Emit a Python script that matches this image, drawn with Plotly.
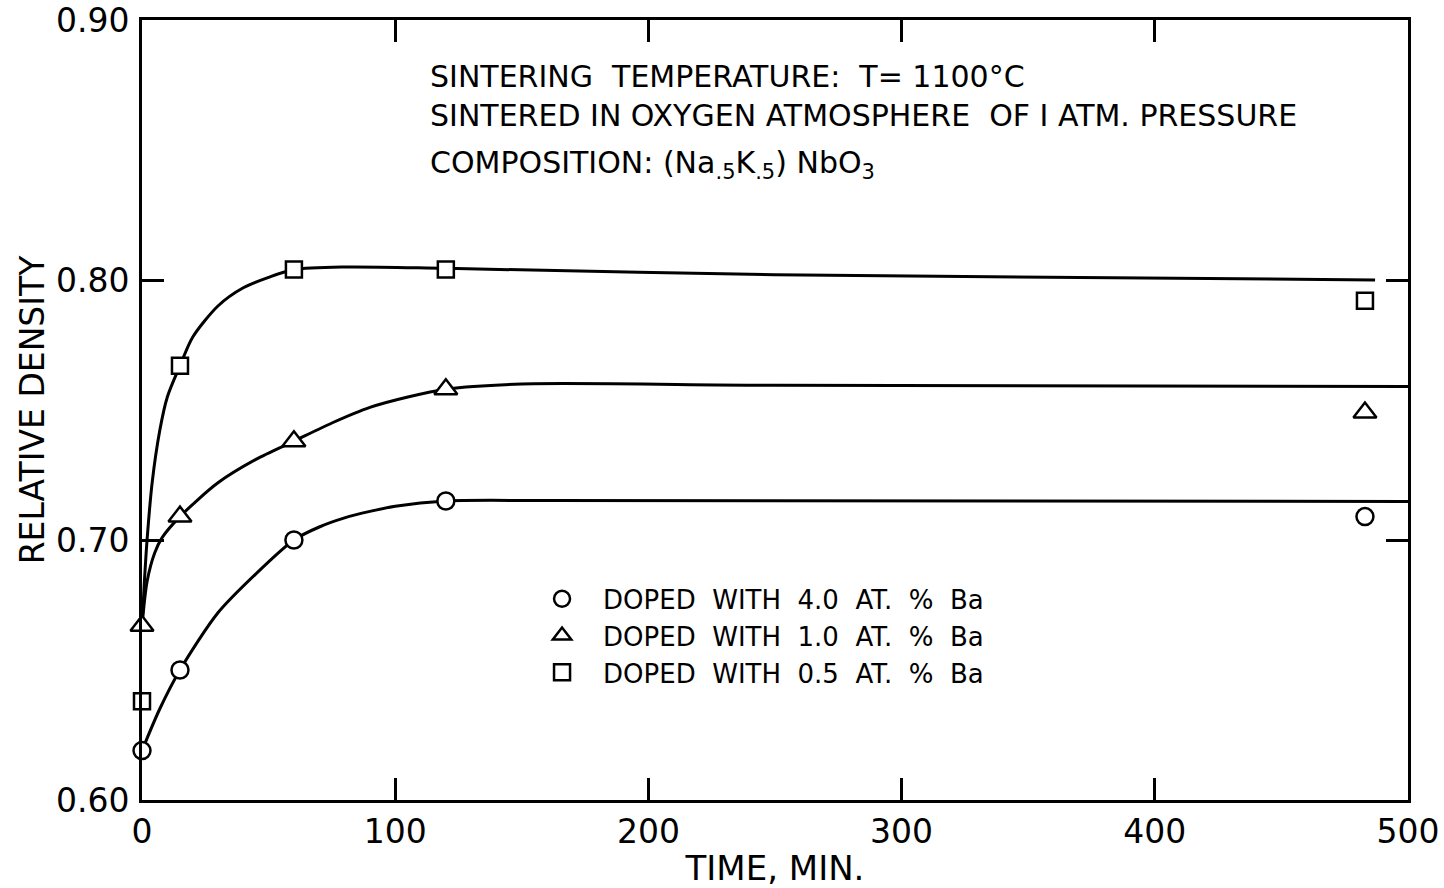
import plotly.graph_objects as go

# ---- data ----
time_pts = [0, 15, 60, 120, 483]
ba40 = [0.619, 0.650, 0.700, 0.715, 0.709]
ba10 = [0.667, 0.709, 0.738, 0.758, 0.749]
ba05 = [0.638, 0.767, 0.804, 0.804, 0.792]

# hand-drawn fitted curves
fit40_t = [0, 7, 15, 30, 45, 60, 70, 80, 90, 100, 120, 160, 500]
fit40_y = [0.619, 0.635, 0.650, 0.672, 0.687, 0.700, 0.705, 0.7085, 0.711, 0.713, 0.715, 0.7152, 0.7148]
fit10_t = [0, 2, 5, 8, 15, 30, 45, 60, 75, 90, 105, 120, 150, 250, 500]
fit10_y = [0.667, 0.684, 0.695, 0.701, 0.709, 0.722, 0.731, 0.738, 0.745, 0.751, 0.755, 0.758, 0.760, 0.7595, 0.759]
fit05_t = [0, 1, 2, 4, 7, 10, 15, 20, 30, 40, 50, 60, 80, 120, 250, 487]
fit05_y = [0.667, 0.685, 0.700, 0.722, 0.742, 0.755, 0.767, 0.778, 0.790, 0.797, 0.801, 0.804, 0.805, 0.8045, 0.802, 0.800]

labels = ["DOPED  WITH  4.0  AT.  %  Ba", "DOPED  WITH  1.0  AT.  %  Ba", "DOPED  WITH  0.5  AT.  %  Ba"]
x_ticks = [0, 100, 200, 300, 400, 500]
y_ticks = [0.60, 0.70, 0.80, 0.90]
y_ticklabels = ["0.60", "0.70", "0.80", "0.90"]

FONT = "DejaVu Sans"
fig = go.Figure()

for t, y in [(fit40_t, fit40_y), (fit10_t, fit10_y), (fit05_t, fit05_y)]:
    fig.add_trace(go.Scatter(x=t, y=y, mode="lines", showlegend=False,
                             line=dict(color="black", width=3, shape="spline", smoothing=0.8),
                             cliponaxis=False, hoverinfo="skip"))

for y, sym, lab, sz in [(ba40, "circle", labels[0], 17), (ba10, "triangle-up", labels[1], 20),
                        (ba05, "square", labels[2], 16)]:
    fig.add_trace(go.Scatter(x=time_pts, y=y, mode="markers", name=lab,
                             marker=dict(symbol=sym, size=sz, color="white",
                                         line=dict(color="black", width=2.5)),
                             cliponaxis=False))

axis_common = dict(showline=True, linecolor="black", linewidth=3, mirror="ticks",
                   ticks="inside", ticklen=22, tickwidth=2.5, tickcolor="black",
                   showgrid=False, zeroline=False, automargin=False,
                   tickfont=dict(family=FONT, size=33, color="black"))

fig.update_xaxes(range=[0, 500], tickvals=x_ticks, ticklabelstandoff=0,
                 title=dict(text="TIME, MIN.", font=dict(family=FONT, size=34, color="black"), standoff=10),
                 **axis_common)
fig.update_yaxes(range=[0.60, 0.90], tickvals=y_ticks, ticktext=y_ticklabels, ticklabelstandoff=3,
                 title=dict(text="RELATIVE DENSITY", font=dict(family=FONT, size=33, color="black"), standoff=2),
                 **axis_common)

ann_font = dict(family=FONT, size=30, color="black")
fig.add_annotation(x=0.2259, y=0.927, xref="paper", yref="paper", xanchor="left", yanchor="middle",
                   text="SINTERING  TEMPERATURE:  T= 1100°C", showarrow=False, font=ann_font)
fig.add_annotation(x=0.2259, y=0.878, xref="paper", yref="paper", xanchor="left", yanchor="middle",
                   text="SINTERED IN OXYGEN ATMOSPHERE  OF I ATM. PRESSURE", showarrow=False, font=ann_font)
fig.add_annotation(x=0.2259, y=0.815, xref="paper", yref="paper", xanchor="left", yanchor="middle",
                   text="COMPOSITION: (Na<sub>.5</sub>K<sub>.5</sub>) NbO<sub>3</sub>", showarrow=False, font=ann_font)

fig.update_layout(
    width=1444, height=888,
    margin=dict(l=142, r=36, t=20, b=88),
    paper_bgcolor="white", plot_bgcolor="white",
    legend=dict(x=0.2994, y=0.288, xanchor="left", yanchor="top",
                font=dict(family=FONT, size=26, color="black"),
                bgcolor="rgba(0,0,0,0)", itemwidth=72),
)

fig.write_html("out.html")
